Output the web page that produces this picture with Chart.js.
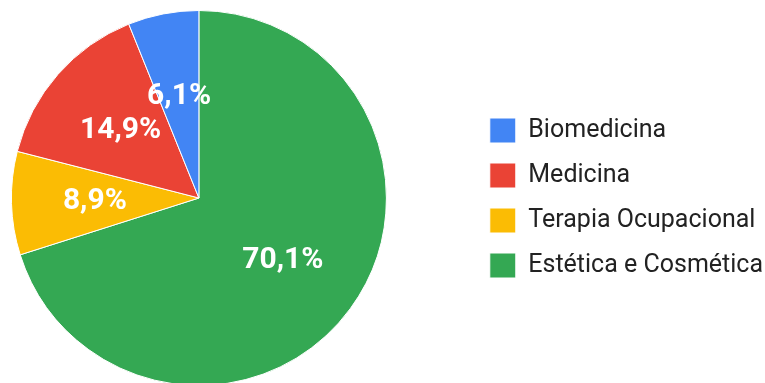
<!DOCTYPE html>
<html>
<head>
<meta charset="utf-8">
<script src="https://cdn.jsdelivr.net/npm/chart.js@4.4.0/dist/chart.umd.min.js"></script>
<style>
  html, body { margin: 0; padding: 0; background: #fff; overflow: hidden; }
  #wrap { position: absolute; left: -72px; top: 0; width: 837px; height: 400px; }
</style>
</head>
<body>
<div id="wrap"><canvas id="chart_cursos" width="837" height="400"></canvas></div>
<script>
// courses, in drawing order (clockwise from 12 o'clock)
var cursos = ['Estética e Cosmética', 'Terapia Ocupacional', 'Medicina', 'Biomedicina'];
var percentuais = [70.1, 8.9, 14.9, 6.1];
var cores = ['#34a853', '#fbbc04', '#ea4335', '#4285f4'];

// white percentage labels inside each slice
var rotulosFatias = {
    id: 'rotulosFatias',
    afterDatasetsDraw: function (chart) {
        var ctx = chart.ctx;
        var meta = chart.getDatasetMeta(0);
        ctx.save();
        ctx.fillStyle = '#ffffff';
        ctx.font = 'bold 30px Roboto';
        ctx.textAlign = 'center';
        ctx.textBaseline = 'middle';
        meta.data.forEach(function (arc, i) {
            var p = arc.getProps(['x', 'y', 'startAngle', 'endAngle', 'outerRadius'], true);
            var mid = (p.startAngle + p.endAngle) / 2;
            var r = p.outerRadius * 0.555;
            var txt = percentuais[i].toFixed(1).replace('.', ',') + '%';
            ctx.fillText(txt, p.x + Math.cos(mid) * r, p.y + Math.sin(mid) * r + 1);
        });
        ctx.restore();
    }
};

var ctx = document.getElementById('chart_cursos').getContext('2d');
var chart = new Chart(ctx, {
    type: 'pie',
    data: {
        labels: cursos,
        datasets: [{
            data: percentuais,
            backgroundColor: cores,
            borderColor: '#ffffff',
            borderWidth: 1
        }]
    },
    options: {
        responsive: false,
        animation: false,
        layout: {
            padding: { left: 0, top: 10, bottom: 14, right: -8 }
        },
        plugins: {
            tooltip: { enabled: false },
            legend: {
                position: 'right',
                reverse: true,
                labels: {
                    boxWidth: 26,
                    boxHeight: 25,
                    padding: 20,
                    color: '#222222',
                    font: { family: 'Roboto', size: 25 }
                }
            }
        }
    },
    plugins: [rotulosFatias]
});
</script>
</body>
</html>
